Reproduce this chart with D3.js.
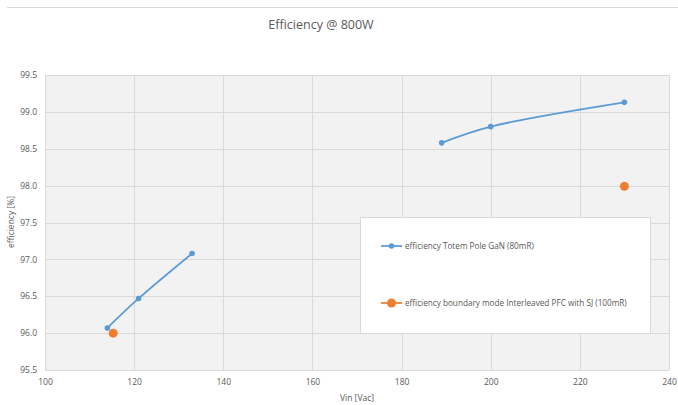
<!DOCTYPE html>
<html><head><meta charset="utf-8">
<script src="https://cdn.jsdelivr.net/npm/d3@7"></script>
<style>body{margin:0;background:#fff;} svg{display:block;font-family:"Open Sans",sans-serif;}</style>
</head><body>
<svg id="c" width="678" height="405"></svg>
<script>
const title = "Efficiency @ 800W";
const xLabel = "Vin [Vac]";
const yLabel = "efficiency [%]";
const xTicks = [100,120,140,160,180,200,220,240];
const yTicks = [95.5,96.0,96.5,97.0,97.5,98.0,98.5,99.0,99.5];
const gan1X = [114,121,133];
const gan1Y = [96.07,96.47,97.08];
const gan2X = [189,200,230];
const gan2Y = [98.58,98.80,99.13];
const sjX = [115.3,230];
const sjY = [96.0,97.99];
const seriesNames = ["efficiency Totem Pole GaN (80mR)","efficiency boundary mode Interleaved PFC with SJ (100mR)"];
const colors = ["#5b9bd5","#ed7d31"];

const svg = d3.select("#c");
const L=45,R=669,T=75,B=370;
const x = d3.scaleLinear().domain([100,240]).range([L,R]);
const y = d3.scaleLinear().domain([95.5,99.5]).range([B,T]);

svg.append("line").attr("x1",7).attr("x2",678).attr("y1",7.5).attr("y2",7.5).attr("stroke","#d9d9d9").attr("stroke-width",1);
svg.append("text").attr("x",321).attr("y",29).attr("text-anchor","middle").attr("font-size",12.5).attr("fill","#595959").text(title);

svg.append("rect").attr("x",L).attr("y",T).attr("width",R-L).attr("height",B-T).attr("fill","#f2f2f2");
const g = svg.append("g");
g.selectAll(".vg").data(xTicks).join("line").attr("x1",d=>Math.round(x(d))+0.5).attr("x2",d=>Math.round(x(d))+0.5).attr("y1",T).attr("y2",B).attr("stroke","#d9d9d9");
g.selectAll(".hg").data(yTicks).join("line").attr("y1",d=>Math.round(y(d))+0.5).attr("y2",d=>Math.round(y(d))+0.5).attr("x1",L).attr("x2",R).attr("stroke","#d9d9d9");

const xa = svg.append("g").attr("transform",`translate(0,${B})`).call(d3.axisBottom(x).tickValues(xTicks).tickFormat(d3.format("d")).tickSize(0).tickPadding(9));
xa.select(".domain").remove();
xa.selectAll("text").attr("font-size",8.5).attr("fill","#595959").attr("font-family","Open Sans");
const ya = svg.append("g").attr("transform",`translate(${L},0)`).call(d3.axisLeft(y).tickValues(yTicks).tickFormat(d3.format(".1f")).tickSize(0).tickPadding(8));
ya.select(".domain").remove();
ya.selectAll("text").attr("font-size",8.5).attr("fill","#595959").attr("font-family","Open Sans");

svg.append("text").attr("x",357).attr("y",401).attr("text-anchor","middle").attr("font-size",8.5).attr("fill","#595959").text(xLabel);
svg.append("text").attr("transform","translate(14,222) rotate(-90)").attr("text-anchor","middle").attr("font-size",8.5).attr("fill","#595959").text(yLabel);

const line = d3.line().x(d=>x(d[0])).y(d=>y(d[1])).curve(d3.curveCatmullRom.alpha(0.5));
[[gan1X,gan1Y],[gan2X,gan2Y]].forEach(([xs,ys])=>{
  const pts = xs.map((v,i)=>[v,ys[i]]);
  svg.append("path").datum(pts).attr("d",line).attr("fill","none").attr("stroke",colors[0]).attr("stroke-width",1.75);
  svg.selectAll(null).data(pts).join("circle").attr("cx",d=>x(d[0])).attr("cy",d=>y(d[1])).attr("r",2.8).attr("fill",colors[0]);
});
svg.selectAll(null).data(sjX.map((v,i)=>[v,sjY[i]])).join("circle").attr("cx",d=>x(d[0])).attr("cy",d=>y(d[1])).attr("r",4.5).attr("fill",colors[1]);

// legend
const lg = svg.append("g");
lg.append("rect").attr("x",360.5).attr("y",217.5).attr("width",290).attr("height",116).attr("fill","#fff").attr("stroke","#d9d9d9");
const ly=[246,303];
seriesNames.forEach((n,i)=>{
  lg.append("line").attr("x1",381).attr("x2",402).attr("y1",ly[i]).attr("y2",ly[i]).attr("stroke",colors[i]).attr("stroke-width",1.75);
  lg.append("circle").attr("cx",391.5).attr("cy",ly[i]).attr("r",i?4.5:2.8).attr("fill",colors[i]);
  lg.append("text").attr("x",405).attr("y",ly[i]+3).attr("font-size",8.2).attr("fill","#595959").text(n);
});
</script>
</body></html>
